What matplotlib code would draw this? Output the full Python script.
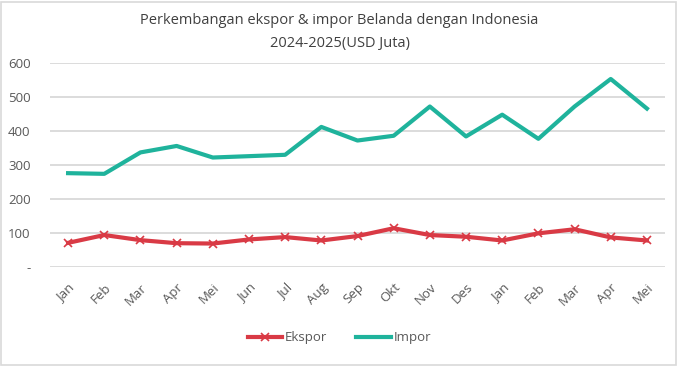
import matplotlib.pyplot as plt
from matplotlib.patches import Rectangle

months = ["Jan", "Feb", "Mar", "Apr", "Mei", "Jun", "Jul", "Aug", "Sep", "Okt",
          "Nov", "Des", "Jan", "Feb", "Mar", "Apr", "Mei"]
ekspor = [71, 94, 79, 70, 69, 81, 88, 78, 91, 114, 94, 89, 78, 99, 111, 87, 78]
impor = [276, 274, 337, 356, 322, 326, 330, 412, 372, 386, 472, 384, 448, 377, 472, 553, 466]
yticks = [0, 100, 200, 300, 400, 500, 600]
ytick_labels = ["-", "100", "200", "300", "400", "500", "600"]

plt.rcParams['font.family'] = ['Open Sans', 'DejaVu Sans']
fig = plt.figure(figsize=(6.79, 3.66), dpi=100)
ax = fig.add_axes([50/679, 1-267/366, 615/679, 204/366])

x = list(range(len(months)))
ax.plot(x, ekspor, color="#d93a45", lw=3, marker="x", ms=6, mew=1.2, label="Ekspor", zorder=3)
ax.plot(x, impor, color="#1fb39c", lw=3, label="Impor", zorder=3)

ax.set_xlim(-0.5, len(months) - 0.5)
ax.set_ylim(0, 600)
ax.set_yticks(yticks)
ax.set_yticklabels(ytick_labels)
ax.set_xticks(x)
ax.set_xticklabels(months, rotation=45, ha="right", rotation_mode="anchor")
ax.grid(axis="y", color="#d9d9d9", lw=1.3)
ax.set_axisbelow(True)
for s in ax.spines.values():
    s.set_visible(False)
ax.tick_params(length=0, colors="#595959", labelsize=9.5)
ax.tick_params(axis="y", pad=14)
ax.tick_params(axis="x", pad=10)

fig.text(0.5, 1-20/366, "Perkembangan ekspor & impor Belanda dengan Indonesia",
         ha="center", va="center", fontsize=10.5, color="#404040")
fig.text(0.5, 1-43/366, "2024-2025(USD Juta)", ha="center", va="center",
         fontsize=10.5, color="#404040")

leg = fig.legend(loc="center", bbox_to_anchor=(0.5, 1-338/366), ncol=2, frameon=False,
                 fontsize=9.5, handlelength=2.6, handletextpad=0.2, columnspacing=2.2,
                 numpoints=1)
for t in leg.get_texts():
    t.set_color("#595959")

fig.patches.append(Rectangle((0.002, 0.004), 0.994, 0.99, transform=fig.transFigure,
                             fill=False, edgecolor="#d9d9d9", lw=1.2))
fig.savefig("out.png", dpi=100)
